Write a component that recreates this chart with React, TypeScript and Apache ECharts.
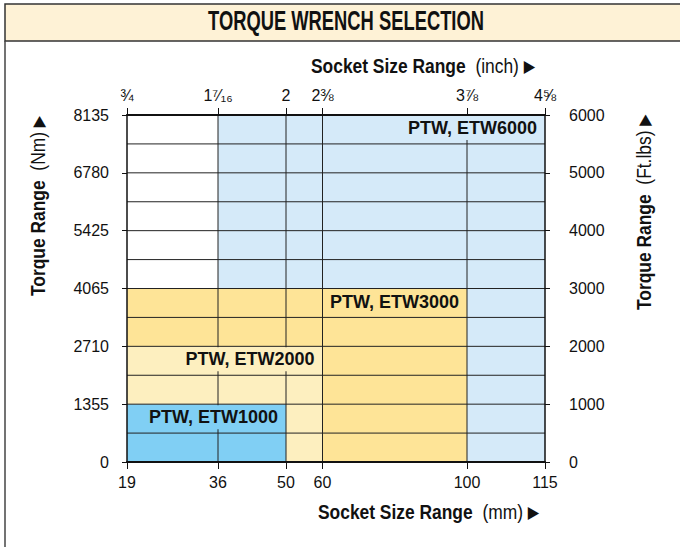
import React, { useEffect, useRef } from 'react';
import * as echarts from 'echarts';

// ---------- data ----------
const mmTicks = [19, 36, 50, 60, 100, 115];
const inchTicks = ['¾', '1⁷⁄₁₆', '2', '2⅜', '3⅞', '4⅝'];
const nmTicks = ['0', '1355', '2710', '4065', '5425', '6780', '8135'];
const ftLbsTicks = [0, 1000, 2000, 3000, 4000, 5000, 6000];

const wrenchNames = ['PTW, ETW6000', 'PTW, ETW3000', 'PTW, ETW2000', 'PTW, ETW1000'];
const socketMinMm = [36, 19, 19, 19];
const socketMaxMm = [115, 100, 60, 50];
const torqueMaxFtLbs = [6000, 3000, 2000, 1000];

// ---------- styles / layout ----------
const wrenchColors = ['#d5eaf9', '#fee497', '#fdefbf', '#80cff4'];
// schematic (non-linear) spacing of the socket-size axis, in axis units
const AXIS_STOPS = [0, 91, 159, 195.5, 340, 418];
const FONT = '"Liberation Sans", Arial, Helvetica, sans-serif';
const INK = '#111';

function mmToAxis(mm: number): number {
  for (let i = 0; i < mmTicks.length - 1; i++) {
    if (mm <= mmTicks[i + 1]) {
      const t = (mm - mmTicks[i]) / (mmTicks[i + 1] - mmTicks[i]);
      return AXIS_STOPS[i] + t * (AXIS_STOPS[i + 1] - AXIS_STOPS[i]);
    }
  }
  return AXIS_STOPS[AXIS_STOPS.length - 1];
}

const tickPos = mmTicks.map(mmToAxis);
const xMin = tickPos[0];
const xMax = tickPos[tickPos.length - 1];
const yMax = ftLbsTicks[ftLbsTicks.length - 1];

function idxOf(v: number) {
  return tickPos.findIndex((p) => Math.abs(p - v) < 1e-6);
}

export default function App() {
  const ref = useRef<HTMLDivElement>(null);

  useEffect(() => {
    if (!ref.current) return;
    const chart = echarts.init(ref.current, undefined, { renderer: 'svg' });

    const rectData = wrenchNames.map((n, i) => [
      mmToAxis(socketMinMm[i]),
      mmToAxis(socketMaxMm[i]),
      torqueMaxFtLbs[i],
      i,
    ]);

    // grid lines: vertical at inner socket ticks, horizontal at each half-step of torque ticks
    const gridData: number[][] = [];
    tickPos.slice(1, -1).forEach((p) => gridData.push([0, p]));
    for (let i = 0; i < ftLbsTicks.length - 1; i++) {
      const a = ftLbsTicks[i];
      const b = ftLbsTicks[i + 1];
      if (i > 0) gridData.push([1, a]);
      gridData.push([1, (a + b) / 2]);
    }

    const axisTitle = (label: string, unit: string, arrow: string) =>
      `{b|${label}}  {n|${unit}} {a|${arrow}}`;
    const titleRich = {
      b: { fontSize: 20, fontWeight: 'bold', fontFamily: FONT, fill: INK },
      n: { fontSize: 20, fontWeight: 'normal', fontFamily: FONT, fill: INK },
      a: { fontSize: 17, fontWeight: 'normal', fontFamily: '"DejaVu Sans", sans-serif', fill: INK },
    };

    const option: any = {
      animation: false,
      backgroundColor: '#ffffff',
      grid: { left: 127, right: 135, top: 115, bottom: 85 },
      graphic: [
        {
          type: 'rect',
          z: -10,
          shape: { x: 5, y: 4, width: 690, height: 37 },
          style: { fill: '#fef2d6', stroke: '#333', lineWidth: 1.5 },
        },
        {
          type: 'line',
          shape: { x1: 5, y1: 41, x2: 5, y2: 547 },
          style: { stroke: '#444', lineWidth: 1.5 },
        },
        {
          type: 'text',
          x: 346,
          y: 21,
          scaleX: 0.68,
          style: {
            text: 'TORQUE WRENCH SELECTION',
            font: `bold 27px ${FONT}`,
            fill: INK,
            align: 'center',
            verticalAlign: 'middle',
          },
        },
        {
          type: 'text',
          x: 311,
          y: 66,
          scaleX: 0.87,
          style: {
            text: axisTitle('Socket Size Range', '(inch)', '▶'),
            rich: titleRich,
            font: `20px ${FONT}`,
            align: 'left',
            verticalAlign: 'middle',
          },
        },
        {
          type: 'text',
          x: 318,
          y: 512,
          scaleX: 0.87,
          style: {
            text: axisTitle('Socket Size Range', '(mm)', '▶'),
            rich: titleRich,
            font: `20px ${FONT}`,
            align: 'left',
            verticalAlign: 'middle',
          },
        },
        {
          type: 'text',
          x: 38,
          y: 296,
          rotation: Math.PI / 2,
          scaleX: 0.87,
          style: {
            text: axisTitle('Torque Range', '(Nm)', '▶'),
            rich: titleRich,
            font: `20px ${FONT}`,
            align: 'left',
            verticalAlign: 'middle',
          },
        },
        {
          type: 'text',
          x: 644,
          y: 310,
          rotation: Math.PI / 2,
          scaleX: 0.87,
          style: {
            text: axisTitle('Torque Range', '(Ft.lbs)', '▶'),
            rich: titleRich,
            font: `20px ${FONT}`,
            align: 'left',
            verticalAlign: 'middle',
          },
        },
      ],
      xAxis: [
        {
          type: 'value',
          position: 'bottom',
          min: xMin,
          max: xMax,
          z: 6,
          axisLine: { show: true, onZero: false, lineStyle: { color: INK, width: 2 } },
          axisTick: { show: true, length: 7, customValues: tickPos, lineStyle: { color: INK, width: 1 } },
          axisLabel: {
            customValues: tickPos,
            formatter: (v: number) => String(mmTicks[idxOf(v)]),
            fontSize: 16,
            fontFamily: FONT,
            color: INK,
            margin: 12,
          },
          splitLine: { show: false },
        },
        {
          type: 'value',
          position: 'top',
          min: xMin,
          max: xMax,
          z: 6,
          axisLine: { show: true, onZero: false, lineStyle: { color: INK, width: 2 } },
          axisTick: { show: true, length: 7, customValues: tickPos, lineStyle: { color: INK, width: 1 } },
          axisLabel: {
            customValues: tickPos,
            formatter: (v: number) => inchTicks[idxOf(v)],
            fontSize: 16,
            fontFamily: FONT,
            color: INK,
            margin: 12,
          },
          splitLine: { show: false },
        },
      ],
      yAxis: [
        {
          type: 'value',
          position: 'left',
          min: 0,
          max: yMax,
          interval: 1000,
          z: 6,
          axisLine: { show: true, onZero: false, lineStyle: { color: INK, width: 1.5 } },
          axisTick: { show: true, length: 5, lineStyle: { color: INK, width: 1 } },
          axisLabel: {
            formatter: (v: number) => nmTicks[ftLbsTicks.indexOf(v)],
            fontSize: 16,
            fontFamily: FONT,
            color: INK,
            margin: 18,
          },
          splitLine: { show: false },
        },
        {
          type: 'value',
          position: 'right',
          min: 0,
          max: yMax,
          interval: 1000,
          z: 6,
          axisLine: { show: true, onZero: false, lineStyle: { color: INK, width: 1.5 } },
          axisTick: { show: true, length: 5, lineStyle: { color: INK, width: 1 } },
          axisLabel: {
            formatter: (v: number) => String(ftLbsTicks[ftLbsTicks.indexOf(v)]),
            fontSize: 16,
            fontFamily: FONT,
            color: INK,
            margin: 24,
            align: 'left',
          },
          splitLine: { show: false },
        },
      ],
      series: [
        {
          type: 'custom',
          name: 'ranges',
          xAxisIndex: 0,
          yAxisIndex: 0,
          z: 1,
          silent: true,
          data: rectData,
          renderItem: (params: any, api: any) => {
            const i = api.value(3);
            const p0 = api.coord([api.value(0), api.value(2)]);
            const p1 = api.coord([api.value(1), 0]);
            return {
              type: 'rect',
              shape: { x: p0[0], y: p0[1], width: p1[0] - p0[0], height: p1[1] - p0[1] },
              style: { fill: wrenchColors[i] },
            };
          },
        },
        {
          type: 'custom',
          name: 'grid',
          xAxisIndex: 0,
          yAxisIndex: 0,
          z: 2,
          silent: true,
          data: gridData,
          renderItem: (params: any, api: any) => {
            const kind = api.value(0);
            const v = api.value(1);
            let a, b;
            if (kind === 0) {
              a = api.coord([v, 0]);
              b = api.coord([v, yMax]);
            } else {
              a = api.coord([xMin, v]);
              b = api.coord([xMax, v]);
            }
            return {
              type: 'line',
              shape: { x1: a[0], y1: a[1], x2: b[0], y2: b[1] },
              style: { stroke: '#222', lineWidth: 1 },
            };
          },
        },
        {
          type: 'custom',
          name: 'labels',
          xAxisIndex: 0,
          yAxisIndex: 0,
          z: 3,
          silent: true,
          data: rectData,
          renderItem: (params: any, api: any) => {
            const i = api.value(3);
            const p = api.coord([api.value(1), api.value(2)]);
            return {
              type: 'text',
              x: p[0] - 5,
              y: p[1] + 13,
              style: {
                text: wrenchNames[i],
                font: `bold 18px ${FONT}`,
                fill: INK,
                align: 'right',
                verticalAlign: 'middle',
                backgroundColor: wrenchColors[i],
                padding: [3, 3, 3, 4],
              },
            };
          },
        },
      ],
    };

    chart.setOption(option);
    return () => chart.dispose();
  }, []);

  return (
    <div
      ref={ref}
      style={{ position: 'absolute', left: 0, top: 0, width: 680, height: 547 }}
    />
  );
}
